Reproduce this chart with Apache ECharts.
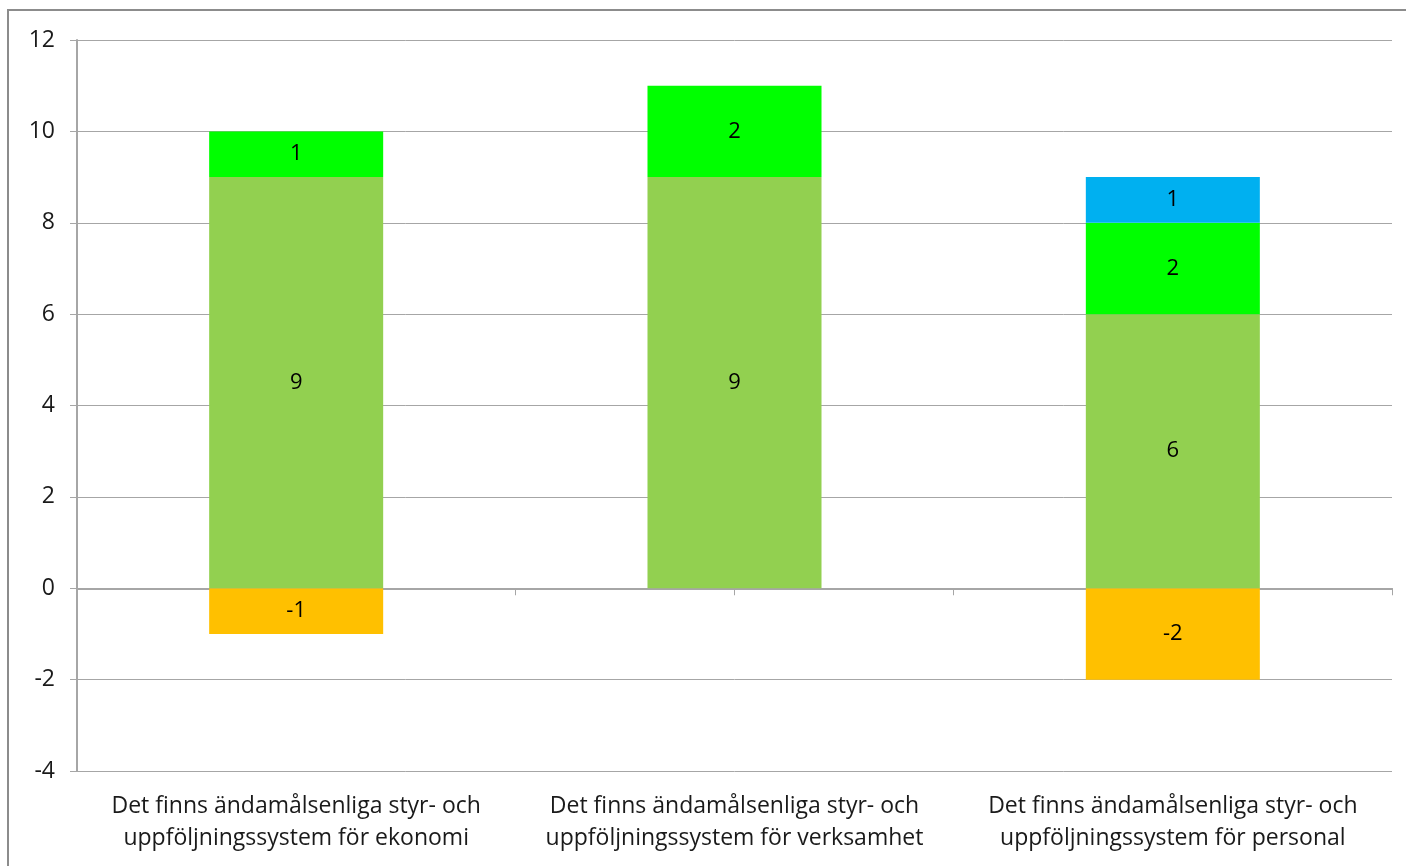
<!DOCTYPE html>
<html>
<head>
<meta charset="utf-8">
<script src="https://cdn.jsdelivr.net/npm/echarts@6/dist/echarts.min.js"></script>
<style>
    html, body { margin: 0; padding: 0; background: #fff; overflow: hidden; }
    #frame { position: absolute; left: 7px; top: 9px; width: 1420px; height: 880px; border: 2px solid #8c8c8c; box-sizing: border-box; }
    #chart { position: absolute; left: 0; top: 0; width: 1406px; height: 866px; }
</style>
</head>
<body>
<div id="frame"></div>
<div id="chart"></div>
<script>
    //data
    var categories = [
        'Det finns ändamålsenliga styr- och\nuppföljningssystem för ekonomi',
        'Det finns ändamålsenliga styr- och\nuppföljningssystem för verksamhet',
        'Det finns ändamålsenliga styr- och\nuppföljningssystem för personal'
    ];
    var orangeVals = [-1, 0, -2];
    var lightGreenVals = [9, 9, 6];
    var greenVals = [1, 2, 2];
    var blueVals = [0, 0, 1];
    var yTicks = [-4, -2, 0, 2, 4, 6, 8, 10, 12];

    var font = '"Open Sans", Lato, sans-serif';
    var gray = '#a6a6a6';

    var makeSeries = function (name, color, data) {
        return {
            name: name,
            type: 'bar',
            stack: 'total',
            barWidth: '39.7%',
            itemStyle: {color: color},
            label: {
                show: true,
                position: 'inside',
                color: '#000',
                fontFamily: font,
                fontSize: 22,
                formatter: function (p) { return p.value === 0 ? '' : String(p.value); }
            },
            data: data
        };
    };

    echarts.init(document.getElementById('chart')).setOption({
        animation: false,
        grid: {left: 77, right: 14, top: 40, bottom: 95},
        xAxis: [
            {
                type: 'category',
                data: categories,
                axisLine: {show: false, onZero: false},
                axisTick: {show: false},
                axisLabel: {
                    fontFamily: font,
                    fontSize: 23,
                    color: '#1a1a1a',
                    lineHeight: 32,
                    margin: 19,
                    interval: 0
                }
            },
            {
                // helper axis for the zero line and half-category ticks
                type: 'category',
                position: 'bottom',
                data: ['', '', '', '', '', ''],
                axisLine: {show: true, onZero: true, lineStyle: {color: gray, width: 2}},
                axisTick: {show: true, length: 7, lineStyle: {color: gray}},
                axisLabel: {show: false}
            }
        ],
        yAxis: {
            type: 'value',
            min: yTicks[0],
            max: yTicks[yTicks.length - 1],
            interval: 2,
            axisLine: {show: true, lineStyle: {color: gray, width: 2}},
            axisTick: {show: true, length: 7, lineStyle: {color: gray}},
            splitLine: {lineStyle: {color: gray, width: 1}},
            axisLabel: {
                fontFamily: font,
                fontSize: 23,
                color: '#1a1a1a',
                margin: 22
            }
        },
        series: [
            makeSeries('orange', '#FFC000', orangeVals),
            makeSeries('lightgreen', '#92D050', lightGreenVals),
            makeSeries('green', '#00FF00', greenVals),
            makeSeries('blue', '#00B0F0', blueVals)
        ]
    });
</script>
</body>
</html>
